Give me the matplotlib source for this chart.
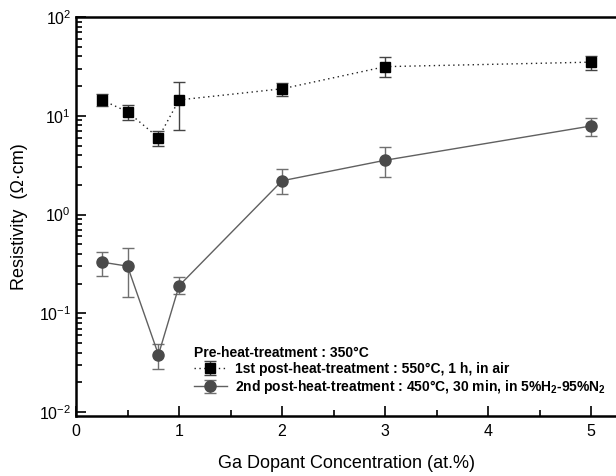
import numpy as np
from matplotlib import pyplot as plt
from matplotlib.ticker import LogLocator, MultipleLocator, NullFormatter

plt.rcParams['font.family'] = ['Liberation Sans', 'DejaVu Sans']
plt.rcParams['mathtext.fontset'] = 'custom'
plt.rcParams['mathtext.rm'] = 'Liberation Sans'
plt.rcParams['mathtext.bf'] = 'Liberation Sans:bold'

# 1st post-heat-treatment (squares)
x1 = [0.25, 0.5, 0.8, 1, 2, 3, 5]
y1 = [14.5, 11.0, 6.0, 14.5, 18.8, 31.5, 35.0]
y1_hi = [16.5, 13.0, 7.0, 22.0, 21.7, 39.5, 40.5]
y1_lo = [12.7, 9.0, 4.9, 7.2, 16.0, 24.5, 29.0]

# 2nd post-heat-treatment (circles)
x2 = [0.25, 0.5, 0.8, 1, 2, 3, 5]
y2 = [0.33, 0.30, 0.038, 0.19, 2.2, 3.55, 7.9]
y2_hi = [0.42, 0.46, 0.049, 0.235, 2.9, 4.8, 9.6]
y2_lo = [0.24, 0.145, 0.0275, 0.155, 1.6, 2.4, 6.2]

err1 = [np.array(y1) - np.array(y1_lo), np.array(y1_hi) - np.array(y1)]
err2 = [np.array(y2) - np.array(y2_lo), np.array(y2_hi) - np.array(y2)]

fh = plt.figure(figsize=(6.16, 4.76), dpi=100)
ah = fh.add_axes([0.1234, 0.126, 0.8766, 0.838])

ah.errorbar(x1, y1, yerr=err1, fmt='s', ls=(0, (1, 2.5)), color='#222222', ecolor='#444444',
            mfc='black', mec='black', ms=7, lw=1.0, elinewidth=1.0, capsize=4,
            label='1st post-heat-treatment : 550\u00b0C, 1 h, in air')
ah.errorbar(x2, y2, yerr=err2, fmt='o', ls='-', color='#606060', ecolor='#707070',
            mfc='#4a4a4a', mec='#4a4a4a', ms=8, lw=1.0, elinewidth=1.0, capsize=4,
            label='2nd post-heat-treatment : 450\u00b0C, 30 min, in 5%H$_\\mathbf{2}$-95%N$_\\mathbf{2}$')

ah.set_yscale('log')
ah.set_ylim(0.0091, 100)
ah.set_xlim(0, 5.24)
ah.xaxis.set_major_locator(MultipleLocator(1))
ah.xaxis.set_minor_locator(MultipleLocator(0.5))
ah.yaxis.set_major_locator(LogLocator(base=10, numticks=10))
ah.yaxis.set_minor_locator(LogLocator(base=10, subs=np.arange(2, 10), numticks=20))
ah.yaxis.set_minor_formatter(NullFormatter())

ah.spines['right'].set_visible(False)
for s in ['left', 'bottom', 'top']:
    ah.spines[s].set_linewidth(1.8)
ah.tick_params(which='both', direction='in', labelsize=11.5, width=1.2)
ah.tick_params(which='major', length=7)
ah.tick_params(which='minor', length=4)
ah.tick_params(axis='y', which='both', right=False)
ah.tick_params(axis='x', which='both', top=False, pad=6)

ah.set_ylabel('Resistivity  (\u03a9\u00b7cm)', fontsize=13, labelpad=8)
ah.set_xlabel('Ga Dopant Concentration (at.%)', fontsize=13, labelpad=11)

leg = ah.legend(loc='lower left', bbox_to_anchor=(0.2, 0.025), frameon=False,
                title='Pre-heat-treatment : 350\u00b0C', alignment='left',
                prop={'weight': 'bold', 'size': 10}, handlelength=2.4,
                labelspacing=0.15, borderpad=0.2, handletextpad=0.6)
leg.get_title().set_fontweight('bold')
leg.get_title().set_fontsize(10)

plt.savefig('out.png', dpi=100)
